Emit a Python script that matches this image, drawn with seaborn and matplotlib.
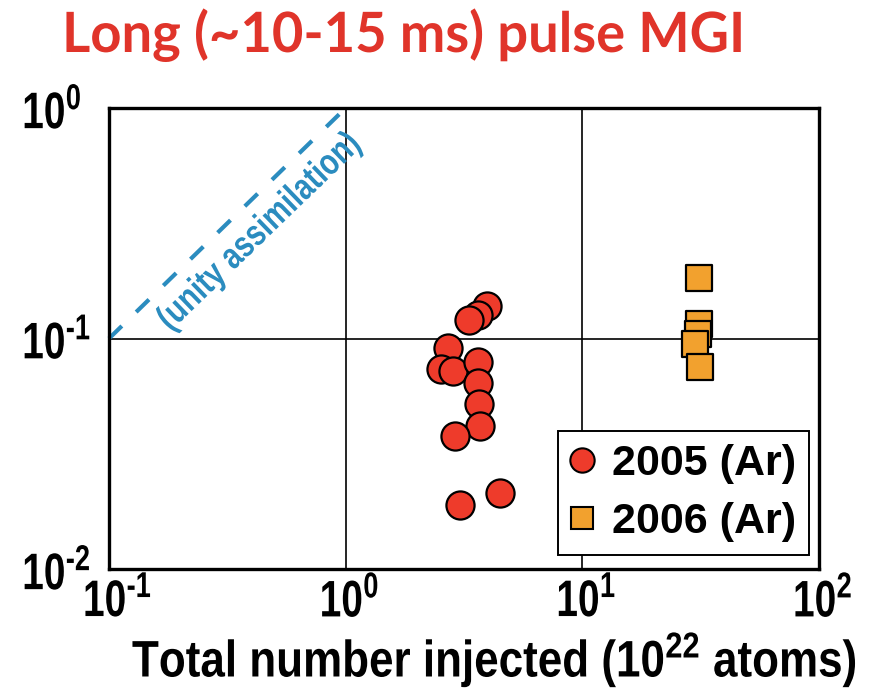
import matplotlib
matplotlib.use("Agg")
import matplotlib.pyplot as plt
import seaborn as sns
import pandas as pd
import numpy as np
from matplotlib.lines import Line2D
from matplotlib.ticker import LogLocator, NullFormatter, FuncFormatter
from matplotlib.patheffects import AbstractPathEffect
from matplotlib.transforms import Affine2D, ScaledTranslation

# Shot data: total atoms injected (1e22) vs. assimilated fraction
ar2005_injected = [3.96, 3.62, 3.32, 2.71, 2.53, 2.84, 3.62, 3.62, 3.66, 3.70, 2.90, 4.49, 3.04]
ar2005_fraction = [0.139, 0.126, 0.120, 0.0905, 0.0741, 0.0726, 0.0787, 0.0644, 0.0521, 0.0419, 0.0379, 0.0214, 0.0190]
ar2006_injected = [31.0, 31.0, 30.8, 29.8, 31.3]
ar2006_fraction = [0.183, 0.116, 0.105, 0.0951, 0.0756]
series_labels = ["2005 (Ar)", "2006 (Ar)"]
unity_x = [0.1, 1.0]
unity_y = [0.1, 1.0]
x_decades = [0.1, 1, 10, 100]
y_decades = [0.01, 0.1, 1]

df = pd.DataFrame({
    "injected": ar2005_injected + ar2006_injected,
    "fraction": ar2005_fraction + ar2006_fraction,
    "campaign": [series_labels[0]] * len(ar2005_injected) + [series_labels[1]] * len(ar2006_injected),
})


class Reshape(AbstractPathEffect):
    """Rescale glyph outlines (condensed / tall lettering) about an anchor point."""

    def __init__(self, sx=1.0, sy=1.0, xanchor="center", yanchor="center"):
        super().__init__()
        self.sx, self.sy = sx, sy
        self.xanchor, self.yanchor = xanchor, yanchor

    def draw_path(self, renderer, gc, tpath, affine, rgbFace=None):
        ext = tpath.get_extents()
        cx = {"left": ext.x0, "right": ext.x1}.get(self.xanchor, 0.5 * (ext.x0 + ext.x1))
        cy = {"bottom": ext.y0, "top": ext.y1}.get(self.yanchor, 0.5 * (ext.y0 + ext.y1))
        t = (Affine2D().translate(-cx, -cy).scale(self.sx, self.sy)
             .translate(cx, cy) + affine)
        renderer.draw_path(gc, tpath, t, rgbFace)


def decade_label(v, pos):
    e = int(round(np.log10(v)))
    exp = ("\u2010%d" % -e) if e < 0 else "%d" % e
    return "$\\mathdefault{10^{%s}}$" % exp


sns.set_style("white")
plt.rcParams["font.family"] = ["Liberation Sans", "DejaVu Sans"]
plt.rcParams["font.weight"] = "bold"
plt.rcParams["mathtext.fontset"] = "custom"
plt.rcParams["mathtext.rm"] = "Liberation Sans:bold"
plt.rcParams["mathtext.bf"] = "Liberation Sans:bold"
plt.rcParams["mathtext.it"] = "Liberation Sans:bold"
for k in ["text.color", "axes.labelcolor", "xtick.color", "ytick.color"]:
    plt.rcParams[k] = "black"

RED = "#ee3b2b"
ORANGE = "#f2a12e"
BLUE = "#2b8cbf"
TITLE_RED = "#e0342a"

W, H = 875, 688
fig = plt.figure(figsize=(W / 100, H / 100), dpi=100)
ax = fig.add_axes([109 / W, 1 - 569 / H, 710 / W, 461 / H])
ax.set_xscale("log")
ax.set_yscale("log")
ax.set_xlim(0.1, 100)
ax.set_ylim(0.01, 1)

# decade grid lines
for xv in x_decades[1:-1]:
    ax.axvline(xv, color="black", lw=1.2, zorder=1)
for yv in y_decades[1:-1]:
    ax.axhline(yv, color="black", lw=1.2, zorder=1)

# unity assimilation reference line
ax.plot(unity_x, unity_y, color=BLUE, lw=3, dashes=(4.3, 4.8), zorder=2, clip_on=False)
unity_txt = ax.text(0.432, 0.289, "(unity assimilation)", color=BLUE, fontsize=22,
                    fontweight="bold", rotation=44, ha="center", va="center",
                    rotation_mode="anchor", zorder=2)

sns.scatterplot(data=df[df.campaign == series_labels[1]], x="injected", y="fraction",
                marker="s", s=340, color=ORANGE, edgecolor="black", linewidth=1.6,
                ax=ax, zorder=3, legend=False)
sns.scatterplot(data=df[df.campaign == series_labels[0]], x="injected", y="fraction",
                marker="o", s=410, color=RED, edgecolor="black", linewidth=1.6,
                ax=ax, zorder=4, legend=False)

for s in ax.spines.values():
    s.set_linewidth(2.4)
    s.set_color("black")

ax.set_xticks(x_decades)
ax.set_yticks(y_decades)
ax.xaxis.set_major_formatter(FuncFormatter(decade_label))
ax.yaxis.set_major_formatter(FuncFormatter(decade_label))
ax.xaxis.set_minor_locator(LogLocator(base=10, subs=np.arange(2, 10)))
ax.yaxis.set_minor_locator(LogLocator(base=10, subs=np.arange(2, 10)))
ax.xaxis.set_minor_formatter(NullFormatter())
ax.yaxis.set_minor_formatter(NullFormatter())
ax.tick_params(which="major", length=0, labelsize=28)
ax.tick_params(axis="x", which="major", pad=5)
ax.tick_params(axis="y", which="major", pad=62.5)
ax.tick_params(which="minor", direction="in", length=6, width=1.4, colors="black")

ax.set_ylabel("")
ax.set_xlabel("Total number injected ($\\mathdefault{10^{22}}$ atoms)", fontsize=32,
              fontweight="bold")
ax.xaxis.set_label_coords((858 - 109) / 710, (569 - 678) / 461)
ax.xaxis.label.set_ha("right")
ax.xaxis.label.set_va("baseline")

handles = [
    Line2D([], [], marker="o", ls="none", markersize=17.5, markerfacecolor=RED,
           markeredgecolor="black", markeredgewidth=1.5),
    Line2D([], [], marker="s", ls="none", markersize=16, markerfacecolor=ORANGE,
           markeredgecolor="black", markeredgewidth=1.5),
]
leg = ax.legend(handles, series_labels, loc="lower right",
                bbox_to_anchor=((809 - 109) / 710, (569 - 555) / 461),
                fontsize=31, frameon=True, fancybox=False, borderpad=0.3,
                handletextpad=0.45, handlelength=0.5, labelspacing=0.42,
                borderaxespad=0)
leg.get_frame().set_edgecolor("black")
leg.get_frame().set_linewidth(1.4)
leg.get_frame().set_facecolor("white")
leg.get_frame().set_alpha(1)
leg.set_zorder(5)

title = fig.text(62 / W, 1 - 52 / H, "Long (~10-15 ms) pulse MGI", color=TITLE_RED,
                 fontsize=40, fontweight="bold", family=["Lato", "DejaVu Sans"],
                 ha="left", va="baseline")

# condensed, tall lettering for title, axis label, decade labels and the diagonal note
fig.canvas.draw()
renderer = fig.canvas.get_renderer()

w = title.get_window_extent(renderer).width
title.set_path_effects([Reshape(sx=683 / w, xanchor="left", yanchor="bottom")])
w = ax.xaxis.label.get_window_extent(renderer).width
ax.xaxis.label.set_path_effects([Reshape(sx=726 / w, sy=37 / 32, xanchor="right",
                                         yanchor="bottom")])
unity_txt.set_path_effects([Reshape(sx=0.96, sy=1.2)])

SY_TICK = 37 / 28
for t in ax.get_yticklabels():
    t.set_ha("left")
    t.set_path_effects([Reshape(sy=SY_TICK, xanchor="left", yanchor="center")])
shift = ScaledTranslation(-26 / 100, 0, fig.dpi_scale_trans)
for t in ax.get_xticklabels():
    t.set_ha("left")
    t.set_transform(t.get_transform() + shift)
    t.set_path_effects([Reshape(sy=SY_TICK, xanchor="left", yanchor="top")])

fig.savefig("out.png", dpi=100)
